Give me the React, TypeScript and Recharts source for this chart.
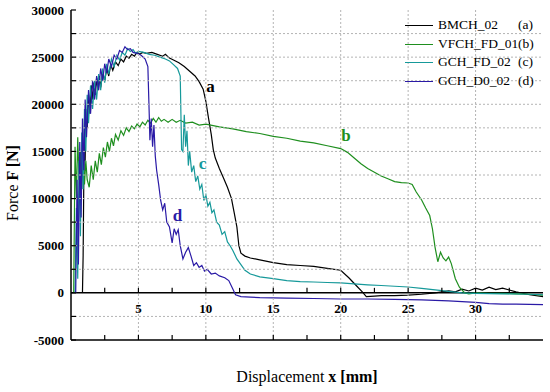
import { LineChart, Line, XAxis, YAxis, ReferenceLine, ReferenceDot } from 'recharts';

// displacement [mm], force [N]
const bmch02 = [
  [0.85, 0], [0.9, 4000], [0.95, 12000], [1.0, 18500], [1.05, 14000], [1.1, 19500], [1.2, 17500], [1.3, 21000],
  [1.4, 19000], [1.5, 22000], [1.6, 20500], [1.7, 22300], [1.8, 21000], [1.9, 22800], [2.0, 21500], [2.1, 23000],
  [2.2, 21800], [2.35, 23300], [2.5, 22500], [2.65, 23800], [2.8, 23000], [2.95, 24200], [3.1, 23600], [3.3, 24500],
  [3.5, 24100], [3.7, 24800], [3.9, 24500], [4.1, 25100], [4.3, 24900], [4.5, 25300], [4.7, 25100], [4.9, 25500],
  [5.1, 25300], [5.3, 25500], [5.6, 25400], [6.0, 25500], [6.4, 25300], [6.8, 25100], [7.0, 25300], [7.3, 24900],
  [7.6, 24700], [8.0, 24400], [8.4, 24000], [8.8, 23500], [9.2, 23000], [9.5, 22400], [9.8, 21600], [10.0, 20300],
  [10.2, 18500], [10.4, 16800], [10.55, 15200], [10.7, 14300], [11.0, 13200], [11.3, 12200], [11.6, 11200],
  [11.9, 10000], [12.1, 8500], [12.3, 7000], [12.45, 5000], [12.6, 4200], [12.9, 3900], [13.3, 3700], [14, 3500],
  [15, 3200], [16, 3000], [17, 2900], [18, 2800], [19, 2600], [20, 2400], [20.6, 1600], [21.2, 700], [21.6, 100],
  [21.9, -400], [22.5, -350], [23, -300], [24, -300], [25, -250], [26, -150], [27, 0], [28, 200], [28.5, 100],
  [29, 400], [29.5, 200], [30, 500], [30.5, 300], [31, 600], [31.5, 350], [32, 500], [32.5, 300], [33, 100],
  [34, -200], [35, -400],
];

const vfchFd01 = [
  [0.2, 0], [0.3, 15500], [0.4, 10000], [0.5, 16500], [0.6, 12000], [0.7, 15000], [0.8, 11000], [0.9, 14500],
  [1.0, 11500], [1.1, 14000], [1.2, 12000], [1.35, 11200], [1.5, 13500], [1.65, 12000], [1.8, 14000], [1.95, 12800],
  [2.1, 14800], [2.25, 13600], [2.4, 15400], [2.55, 14400], [2.7, 16000], [2.85, 15000], [3.0, 16400], [3.15, 15600],
  [3.3, 16800], [3.5, 16200], [3.7, 17200], [3.9, 16700], [4.1, 17500], [4.3, 17100], [4.5, 17700], [4.7, 17400],
  [4.9, 17900], [5.1, 17600], [5.3, 18100], [5.5, 17800], [5.7, 18300], [5.9, 18000], [6.1, 18500], [6.3, 18100],
  [6.5, 18600], [6.7, 18200], [6.9, 18400], [7.2, 18100], [7.5, 18400], [7.8, 18100], [8.1, 18300], [8.5, 18000],
  [9, 18100], [9.5, 17800], [10, 17900], [11, 17600], [12, 17400], [13, 17100], [14, 16900], [15, 16600],
  [16, 16400], [17, 16100], [18, 15900], [19, 15600], [20, 15300], [20.5, 14900], [21, 14300], [21.5, 13700],
  [22, 13200], [22.5, 12800], [23, 12400], [23.5, 12100], [24, 11800], [24.5, 11700], [25, 11650], [25.3, 11500],
  [25.6, 10700], [26.0, 9850], [26.3, 9000], [26.6, 8200], [26.8, 6800], [27.0, 4800], [27.2, 3300], [27.4, 4300],
  [27.6, 3700], [27.8, 3400], [28.0, 3800], [28.2, 3100], [28.5, 1500], [28.8, 600], [29.2, 0], [29.5, -100],
  [30, 0], [31, -50], [32, -50], [33, -100], [34, -150], [35, -250],
];

const gchFd02 = [
  [0.3, 0], [0.4, 9000], [0.5, 1500], [0.6, 14000], [0.7, 6000], [0.8, 17000], [0.9, 11000], [1.0, 19500],
  [1.1, 15000], [1.2, 21000], [1.3, 18000], [1.45, 22000], [1.6, 19500], [1.75, 22500], [1.9, 20500], [2.05, 23200],
  [2.2, 21500], [2.35, 23800], [2.5, 22300], [2.65, 24300], [2.8, 23200], [3.0, 24800], [3.2, 24000], [3.4, 25200],
  [3.6, 24700], [3.8, 25500], [4.0, 25200], [4.2, 25900], [4.4, 25600], [4.6, 25800], [4.8, 25400], [5.0, 25600],
  [5.4, 25500], [5.8, 25300], [6.2, 25200], [6.6, 25000], [7.0, 24800], [7.3, 24600], [7.6, 24200], [7.9, 23800],
  [8.1, 23000], [8.15, 19000], [8.2, 15200], [8.3, 15000], [8.4, 18900], [8.5, 15500], [8.6, 17200], [8.7, 13500],
  [8.8, 15000], [8.95, 12800], [9.1, 13500], [9.25, 11800], [9.4, 12400], [9.55, 11000], [9.7, 11500], [9.85, 9800],
  [10.0, 10400], [10.15, 9200], [10.3, 9600], [10.45, 8500], [10.6, 8800], [10.8, 7500], [11.0, 7200], [11.2, 6200],
  [11.4, 6500], [11.6, 5400], [11.8, 5000], [12.0, 4500], [12.3, 3600], [12.6, 3000], [12.9, 2400], [13.3, 2000],
  [14, 1700], [15, 1500], [16, 1300], [17, 1200], [18, 1150], [19, 1100], [20, 1050], [21, 950], [22, 850],
  [23, 780], [24, 700], [25, 620], [26, 480], [27, 320], [28, 150], [29, 0], [30, -50], [31, -80], [32, -100],
  [33, -120], [34, -150], [35, -200],
];

const gchD002 = [
  [0.35, 0], [0.45, 12000], [0.55, 3000], [0.65, 16000], [0.75, 8000], [0.85, 18500], [0.95, 13000], [1.05, 20500],
  [1.15, 16500], [1.3, 21500], [1.45, 19000], [1.6, 22500], [1.75, 20500], [1.9, 23000], [2.05, 21500], [2.2, 23800],
  [2.35, 22500], [2.5, 24300], [2.65, 23300], [2.8, 24800], [3.0, 24000], [3.2, 25200], [3.4, 24800], [3.6, 25700],
  [3.8, 25500], [4.0, 26100], [4.2, 25800], [4.4, 25900], [4.6, 25500], [4.9, 25400], [5.2, 25200], [5.5, 24800],
  [5.7, 24000], [5.8, 19000], [5.85, 16200], [5.95, 18500], [6.05, 15500], [6.15, 17800], [6.25, 14500],
  [6.35, 13000], [6.5, 11500], [6.65, 9800], [6.8, 8800], [6.95, 9500], [7.1, 7500], [7.3, 7000], [7.5, 5300],
  [7.65, 6800], [7.8, 6200], [7.95, 6700], [8.1, 5000], [8.3, 3600], [8.5, 4300], [8.7, 4800], [8.9, 3900],
  [9.1, 2900], [9.3, 3200], [9.5, 2700], [9.7, 2900], [9.9, 2300], [10.1, 2500], [10.4, 2000], [10.7, 2100],
  [11.0, 1800], [11.4, 1600], [11.7, 1300], [12.0, 400], [12.2, -200], [12.6, -400], [13.3, -450], [14, -500],
  [16, -550], [18, -600], [20, -650], [22, -650], [24, -700], [26, -750], [28, -850], [30, -1000], [31, -1150],
  [32, -1200], [33, -1200], [35, -1250],
];

const xTicks = [2.5, 5, 7.5, 10, 12.5, 15, 17.5, 20, 22.5, 25, 27.5, 30, 32.5];
const xLabels = [5, 10, 15, 20, 25, 30];
const yTicks = [-5000, -2500, 0, 2500, 5000, 7500, 10000, 12500, 15000, 17500, 20000, 22500, 25000, 27500, 30000];
const yLabels = [-5000, 0, 5000, 10000, 15000, 20000, 25000, 30000];

const series = [
  { name: 'BMCH_02', tag: '(a)', letter: 'a', color: '#000000', data: bmch02, at: [10.35, 21900] },
  { name: 'VFCH_FD_01', tag: '(b)', letter: 'b', color: '#1f8f1f', data: vfchFd01, at: [20.4, 16700] },
  { name: 'GCH_FD_02', tag: '(c)', letter: 'c', color: '#16999a', data: gchFd02, at: [9.75, 13800] },
  { name: 'GCH_D0_02', tag: '(d)', letter: 'd', color: '#2a1aa6', data: gchD002, at: [7.9, 8300] },
];

const W = 550;
const H = 392;
// axes get 1px boxes (a 0px axis is not drawn at all)
const M = { top: 9, right: 6, bottom: 51, left: 0 };
const Y_AXIS_W = 71;
const PLOT_W = W - M.left - M.right - Y_AXIS_W - 1;
const PLOT_H = H - M.top - M.bottom - 2;
const Y_MIN = -5000;
const Y_MAX = 30000;
// distance from the bottom frame up to the zero line
const ZERO_UP = (PLOT_H * (0 - Y_MIN)) / (Y_MAX - Y_MIN);

const serif = '"Liberation Serif", "DejaVu Serif", serif';
const gridStroke = '#b4b4b4';

// bottom axis: frame ticks, zero-line ticks, labels under the zero line, vertical grid
function BottomTick({ x, y, payload }: any) {
  const v = payload.value;
  const zy = y - ZERO_UP;
  const major = xLabels.includes(v);
  return (
    <g>
      {major && (
        <line x1={x} y1={y} x2={x} y2={y - PLOT_H} stroke={gridStroke} strokeWidth={1} strokeDasharray="2 2" />
      )}
      <line x1={x} y1={y} x2={x} y2={y - 5} stroke="#000" strokeWidth={1.2} />
      <line x1={x} y1={zy} x2={x} y2={zy - 5} stroke="#000" strokeWidth={1.2} />
      {major && (
        <text x={x} y={zy + 20} textAnchor="middle" style={{ fontFamily: serif }} fontWeight="bold" fontSize={13} fill="#000">
          {v}
        </text>
      )}
    </g>
  );
}

function TopTick({ x, y }: any) {
  return <line x1={x} y1={y} x2={x} y2={y + 5} stroke="#000" strokeWidth={1} />;
}

// left axis: inward ticks, labels, horizontal grid, bottom frame
function LeftTick({ x, y, payload }: any) {
  const v = payload.value;
  const edge = v === Y_MIN || v === Y_MAX || v === 0;
  return (
    <g>
      {!edge && (
        <line x1={x} y1={y} x2={x + PLOT_W} y2={y} stroke={gridStroke} strokeWidth={1} strokeDasharray="2 2" />
      )}
      {v === Y_MIN && <line x1={x} y1={y} x2={x + PLOT_W} y2={y} stroke="#000" strokeWidth={1.5} />}
      <line x1={x} y1={y} x2={x + 5} y2={y} stroke="#000" strokeWidth={1.2} />
      {yLabels.includes(v) && (
        <text x={x - 7} y={y + 4.5} textAnchor="end" style={{ fontFamily: serif }} fontWeight="bold" fontSize={13} fill="#000">
          {v}
        </text>
      )}
    </g>
  );
}

// right axis: inward ticks and the right frame
function RightTick({ x, y, payload }: any) {
  return (
    <g>
      {payload.value === Y_MIN && <line x1={x} y1={y} x2={x} y2={y - PLOT_H} stroke="#000" strokeWidth={1.2} />}
      <line x1={x} y1={y} x2={x - 5} y2={y} stroke="#000" strokeWidth={1} />
    </g>
  );
}

export default function App() {
  const lines = series.map((s) => ({ ...s, rows: s.data.map(([x, y]) => ({ x, y })) }));

  return (
    <div style={{ position: 'absolute', left: 0, top: 0, width: W, height: H, background: '#fff', fontFamily: serif }}>
      <LineChart width={W} height={H} margin={M}>
        <XAxis
          dataKey="x"
          type="number"
          domain={[0, 35]}
          ticks={xTicks}
          interval={0}
          height={1}
          tickSize={0}
          tickMargin={0}
          tickLine={false}
          axisLine={false}
          tick={<BottomTick />}
        />
        <XAxis
          xAxisId="top"
          orientation="top"
          type="number"
          domain={[0, 35]}
          ticks={xTicks}
          interval={0}
          height={1}
          tickSize={0}
          tickMargin={0}
          tickLine={false}
          axisLine={false}
          tick={<TopTick />}
        />
        <YAxis
          type="number"
          domain={[Y_MIN, Y_MAX]}
          ticks={yTicks}
          interval={0}
          width={Y_AXIS_W}
          tickSize={0}
          tickMargin={0}
          tickLine={false}
          axisLine={{ stroke: '#000', strokeWidth: 1.5 }}
          tick={<LeftTick />}
        />
        <YAxis
          yAxisId="r"
          orientation="right"
          type="number"
          domain={[Y_MIN, Y_MAX]}
          ticks={yTicks}
          interval={0}
          width={1}
          tickSize={0}
          tickMargin={0}
          tickLine={false}
          axisLine={false}
          tick={<RightTick />}
        />
        <ReferenceLine y={0} ifOverflow="visible" stroke="#000" strokeWidth={1.5} />
        {lines.map((s) => (
          <Line
            key={s.name}
            data={s.rows}
            dataKey="y"
            name={s.name}
            stroke={s.color}
            strokeWidth={1.2}
            dot={false}
            isAnimationActive={false}
          />
        ))}
        {lines.map((s) => (
          <ReferenceDot
            key={s.letter}
            x={s.at[0]}
            y={s.at[1]}
            r={1}
            fill="none"
            stroke="none"
            label={{ value: s.letter, position: 'center', fill: s.color, fontSize: 17, fontWeight: 'bold', fontFamily: serif }}
          />
        ))}
      </LineChart>

      {/* legend */}
      <div style={{ position: 'absolute', left: 405, top: 16, fontSize: 13.5, color: '#000', lineHeight: '18.7px' }}>
        {series.map((s) => (
          <div key={s.name} style={{ display: 'flex', alignItems: 'center', height: 18.7 }}>
            <div style={{ width: 28, borderTop: `1.5px solid ${s.color}`, marginRight: 5 }} />
            <span style={{ width: 80 }}>{s.name}</span>
            <span>{s.tag}</span>
          </div>
        ))}
      </div>

      {/* axis titles */}
      <div
        style={{
          position: 'absolute',
          left: 0,
          top: 368,
          width: 614,
          textAlign: 'center',
          fontSize: 16,
          color: '#000',
        }}
      >
        Displacement <b>x [mm]</b>
      </div>
      <div
        style={{
          position: 'absolute',
          left: 13,
          top: 183,
          transform: 'translate(-50%, -50%) rotate(-90deg)',
          whiteSpace: 'nowrap',
          fontSize: 16,
          color: '#000',
        }}
      >
        Force <b>F [N]</b>
      </div>
    </div>
  );
}
